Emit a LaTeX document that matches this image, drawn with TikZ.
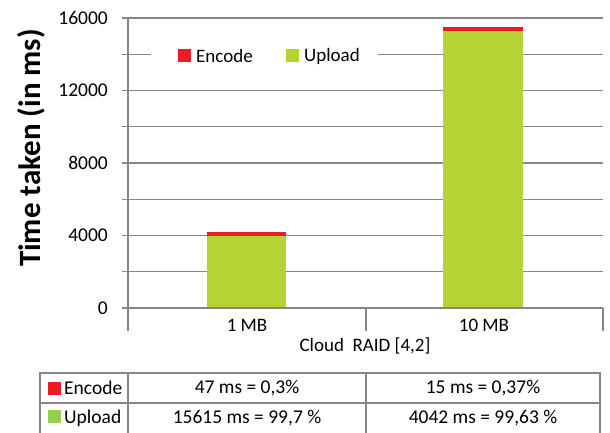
\documentclass[tikz,border=0pt]{standalone}
\usepackage{fontspec}
\setmainfont{Carlito}
\definecolor{barred}{RGB}{237,28,36}
\definecolor{bargreen}{RGB}{181,211,52}
\definecolor{tabgreen}{RGB}{146,208,80}
\definecolor{gridgray}{RGB}{134,134,134}
\begin{document}
\begin{tikzpicture}[x=1pt,y=-1pt,
  gridline/.style={draw=gridgray, line width=1.2pt},
  axisline/.style={draw=gridgray, line width=2.2pt},
  tabline/.style={draw=gridgray, line width=1.8pt},
  lbl/.style={font=\fontsize{19}{21}\selectfont, inner sep=0pt},
  tablbl/.style={font=\fontsize{19.5}{21}\selectfont, inner sep=0pt},
  ylbl/.style={anchor=east, font=\fontsize{19.5}{21}\selectfont, inner sep=0pt},
  sq/.style={inner sep=0pt, minimum size=13pt}]
\useasboundingbox (0,0) rectangle (610,433);
% grid lines (every 2000)
\foreach \k in {1,...,8} {
  \pgfmathsetmacro{\yy}{308-\k*36.25}
  \draw[gridline] (122,\yy) -- (603,\yy);
}
% tick labels
\foreach \k/\v in {0/0,2/4000,4/8000,6/12000,8/16000} {
  \pgfmathsetmacro{\yy}{308-\k*36.25}
  \node[ylbl] (t\v) at (108,\yy) {\v};
}
% legend
\fill[white] (151,42) rectangle (378,67);
\node[sq, fill=barred, anchor=north west] (lgE) at (178,49) {};
\node[lbl, anchor=west] (lgEt) at (196,56) {Encode};
\node[sq, fill=bargreen, anchor=north west] (lgU) at (286,49) {};
\node[lbl, anchor=west] (lgUt) at (304,56) {Upload};
% bars
\fill[bargreen] (207,236) rectangle (286,308);
\fill[barred] (207,232) rectangle (286,236);
\fill[bargreen] (443,31) rectangle (523,308);
\fill[barred] (443,27) rectangle (523,31);
% axes
\draw[axisline] (128,18) -- (128,331);
\draw[axisline] (122,308) -- (603,308);
\draw[axisline] (366,308) -- (366,331);
\draw[axisline] (603,308) -- (603,331);
% category labels
\node[lbl] (c1) at (247,325) {1 MB};
\node[lbl] (c2) at (484,325) {10 MB};
\node[lbl] (ct) at (365,346) {Cloud\ \ RAID [4,2]};
% y title
\node[rotate=90, inner sep=0pt, font=\fontsize{31}{34}\selectfont\bfseries] (yt) at (31,148) {Time taken (in ms)};
% table
\draw[tabline] (40,434) -- (40,373) -- (600,373) -- (600,434);
\draw[tabline] (40,403) -- (600,403);
\draw[tabline] (128,373) -- (128,434);
\draw[tabline] (366,373) -- (366,434);
\node[sq, fill=barred, anchor=north west] (tbE) at (48,382) {};
\node[tablbl, anchor=west] (tbEt) at (64,388) {Encode};
\node[sq, fill=tabgreen, anchor=north west] (tbU) at (48,410) {};
\node[tablbl, anchor=west] (tbUt) at (64,418) {Upload};
\node[tablbl] (e1) at (247,388) {47 ms = 0,3\%};
\node[tablbl] (e2) at (483,388) {15 ms = 0,37\%};
\node[tablbl] (u1) at (247,418) {15615 ms = 99,7 \%};
\node[tablbl] (u2) at (483,418) {4042 ms = 99,63 \%};
\end{tikzpicture}
\end{document}
